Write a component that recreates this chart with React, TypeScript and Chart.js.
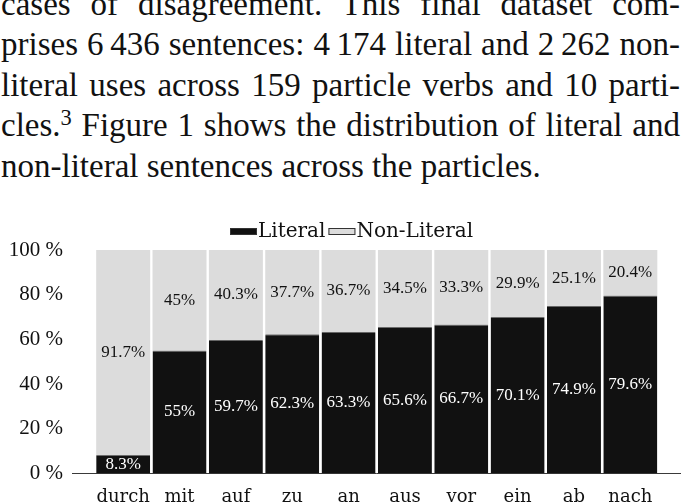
import React, { useEffect, useRef } from 'react';
import { Chart, registerables } from 'chart.js';

Chart.register(...registerables);

const particles = ['durch', 'mit', 'auf', 'zu', 'an', 'aus', 'vor', 'ein', 'ab', 'nach'];
const literal = [8.3, 55, 59.7, 62.3, 63.3, 65.6, 66.7, 70.1, 74.9, 79.6];
const nonLiteral = [91.7, 45, 40.3, 37.7, 36.7, 34.5, 33.3, 29.9, 25.1, 20.4];
const seriesNames = ['Literal', 'Non-Literal'];
const seriesColors = ['#111111', '#dcdcdc'];
const labelColors = ['#ffffff', '#111111'];
const yTickLabels = ['0 %', '20 %', '40 %', '60 %', '80 %', '100 %'];

const paragraphLines = [
  'cases of disagreement.  This final dataset com-',
  'prises 6\u2009436 sentences: 4\u2009174 literal and 2\u2009262 non-',
  'literal uses across 159 particle verbs and 10 parti-',
  null,
  'non-literal sentences across the particles.',
];

const CANVAS_H = 313;

const baselinePlugin = {
  id: 'baseline',
  beforeDatasetsDraw(chart: any) {
    const { ctx, chartArea, scales } = chart;
    const py = Math.round(scales.y.getPixelForValue(0)) + 0.5;
    ctx.save();
    ctx.strokeStyle = '#3a3a3a';
    ctx.lineWidth = 1;
    ctx.beginPath();
    ctx.moveTo(chartArea.left - 23, py);
    ctx.lineTo(chartArea.right + 23, py);
    ctx.stroke();
    ctx.restore();
  },
};

const valueLabelPlugin = {
  id: 'valueLabels',
  afterDatasetsDraw(chart: any) {
    const { ctx } = chart;
    ctx.save();
    ctx.font = '17px "Liberation Serif"';
    ctx.textAlign = 'center';
    ctx.textBaseline = 'middle';
    chart.data.datasets.forEach((ds: any, i: number) => {
      const meta = chart.getDatasetMeta(i);
      ctx.fillStyle = labelColors[i];
      meta.data.forEach((bar: any, j: number) => {
        const { x, y, base } = bar.getProps(['x', 'y', 'base'], true);
        ctx.fillText(`${ds.data[j]}%`, x, (y + base) / 2);
      });
    });
    ctx.restore();
  },
};

const legendPlugin = {
  id: 'customLegend',
  afterDraw(chart: any) {
    const { ctx } = chart;
    ctx.save();
    ctx.font = '20px "DejaVu Serif"';
    ctx.textAlign = 'left';
    ctx.textBaseline = 'alphabetic';
    let x = 230;
    const boxTop = 23;
    chart.data.datasets.forEach((ds: any) => {
      ctx.fillStyle = ds.backgroundColor;
      ctx.fillRect(x, boxTop, 27, 7);
      ctx.strokeStyle = '#333333';
      ctx.lineWidth = 1;
      ctx.strokeRect(x + 0.5, boxTop + 0.5, 26, 6);
      x += 28;
      ctx.fillStyle = '#111111';
      ctx.fillText(ds.label, x, 32);
      x += ctx.measureText(ds.label).width + 3;
    });
    ctx.restore();
  },
};

function BarChart() {
  const ref = useRef<HTMLCanvasElement>(null);
  useEffect(() => {
    if (!ref.current) return;
    const chart = new Chart(ref.current, {
      type: 'bar',
      data: {
        labels: particles,
        datasets: [
          {
            label: seriesNames[0],
            data: literal,
            backgroundColor: seriesColors[0],
            borderColor: '#666666',
            borderWidth: { top: 1, left: 0, right: 0, bottom: 0 },
            borderSkipped: false,
            barPercentage: 0.958,
            categoryPercentage: 1,
          },
          {
            label: seriesNames[1],
            data: nonLiteral,
            backgroundColor: seriesColors[1],
            borderWidth: 0,
            barPercentage: 0.958,
            categoryPercentage: 1,
          },
        ],
      },
      options: {
        animation: false,
        responsive: false,
        layout: { padding: { left: 0, right: 22.5, top: 45, bottom: 0 } },
        plugins: { legend: { display: false }, tooltip: { enabled: false } },
        scales: {
          x: {
            stacked: true,
            grid: { display: false, drawTicks: false },
            border: { display: false },
            ticks: {
              font: { family: 'DejaVu Serif', size: 18 },
              color: '#111111',
              padding: 13,
              maxRotation: 0,
              autoSkip: false,
            },
            afterFit: (s: any) => {
              s.height = 30;
            },
          },
          y: {
            stacked: true,
            min: 0,
            max: 100,
            grid: { display: false, drawTicks: false },
            border: { display: false },
            ticks: {
              stepSize: 20,
              callback: (v: any) => yTickLabels[Math.round(Number(v) / 20)],
              font: { family: 'Liberation Serif', size: 21 },
              color: '#111111',
              padding: 32,
            },
            afterFit: (s: any) => {
              s.width = 95;
            },
          },
        },
      },
      plugins: [baselinePlugin, valueLabelPlugin, legendPlugin],
    });
    return () => chart.destroy();
  }, []);
  return (
    <canvas
      ref={ref}
      width={681}
      height={CANVAS_H}
      style={{ display: 'block', width: 681, height: CANVAS_H }}
    />
  );
}

export default function App() {
  const lineStyle: React.CSSProperties = {
    height: 40.5,
    textAlign: 'justify',
    textAlignLast: 'justify' as any,
    whiteSpace: 'normal',
  };
  return (
    <div
      style={{
        position: 'absolute',
        left: 0,
        top: 0,
        width: 681,
        height: 503,
        overflow: 'hidden',
        background: '#ffffff',
      }}
    >
      <div
        style={{
          position: 'absolute',
          left: 1,
          top: -16.4,
          width: 679,
          fontFamily: '"Liberation Serif", serif',
          fontSize: 33,
          lineHeight: '40.5px',
          color: '#111111',
        }}
      >
        {paragraphLines.map((line, i) => {
          if (line === null) {
            return (
              <div key={i} style={lineStyle}>
                cles.<span style={{ position: 'relative', top: '-0.5em', fontSize: '0.68em', lineHeight: 0 }}>3</span> Figure 1 shows the distribution of literal and
              </div>
            );
          }
          const last = i === paragraphLines.length - 1;
          return (
            <div key={i} style={last ? { height: 40.5, textAlign: 'left' } : lineStyle}>
              {line}
            </div>
          );
        })}
      </div>
      <div style={{ position: 'absolute', left: 0, top: 205, width: 681, height: CANVAS_H }}>
        <BarChart />
      </div>
    </div>
  );
}
